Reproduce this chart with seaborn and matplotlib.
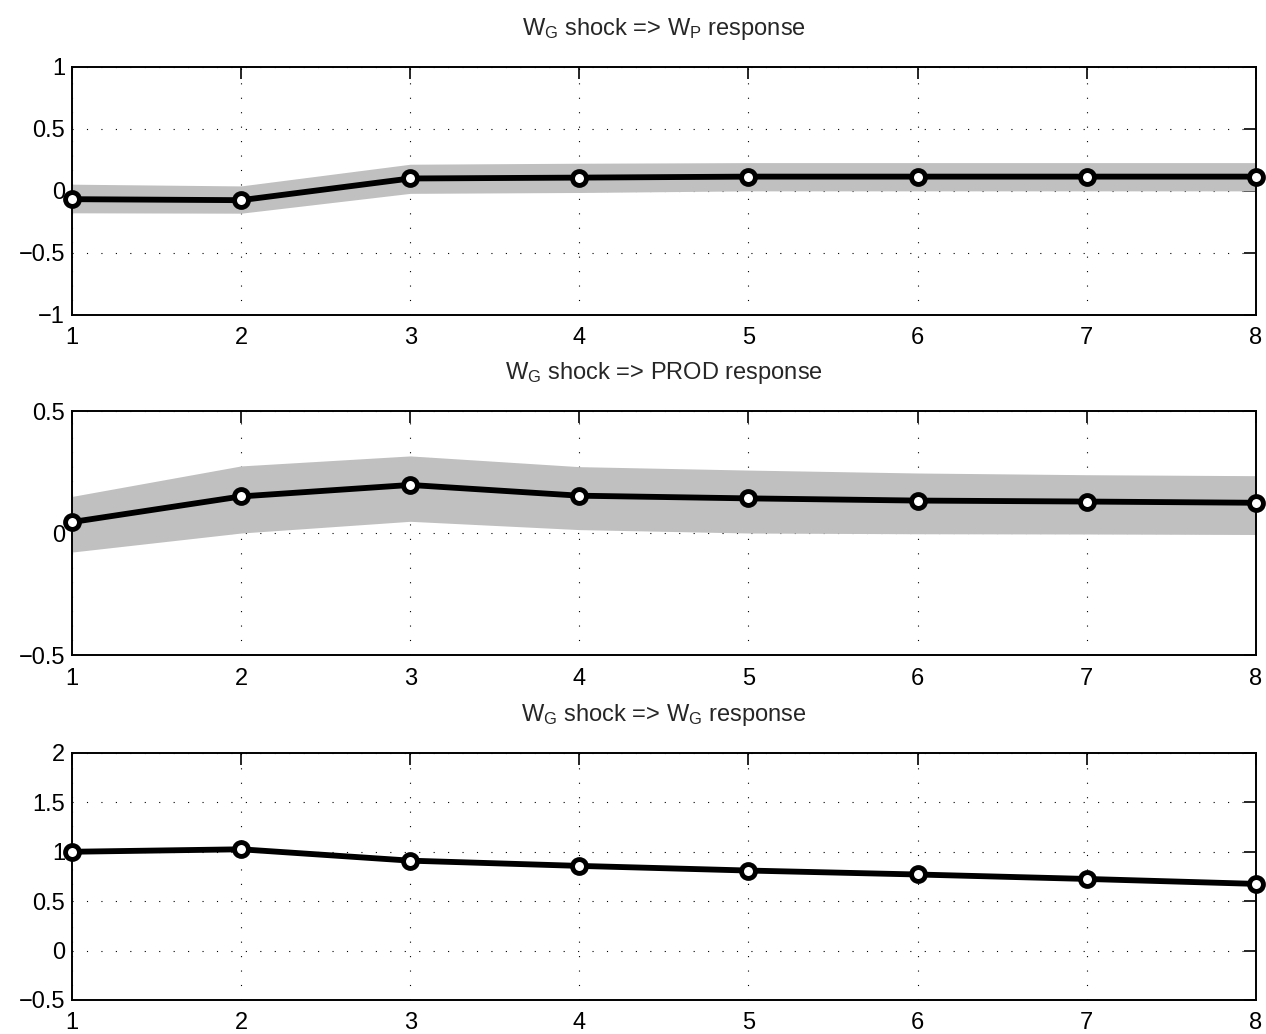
import matplotlib
matplotlib.use("Agg")
import matplotlib.pyplot as plt
import seaborn as sns
import pandas as pd

# ------------------- data ------------------------------------------
horizon = [1, 2, 3, 4, 5, 6, 7, 8]

wp_resp = [-0.067, -0.075, 0.10, 0.107, 0.115, 0.115, 0.115, 0.115]
wp_lo = [-0.177, -0.18, -0.02, -0.013, 0.0, 0.0, 0.0, 0.0]
wp_hi = [0.054, 0.04, 0.215, 0.223, 0.228, 0.228, 0.228, 0.228]

prod_resp = [0.045, 0.15, 0.197, 0.153, 0.142, 0.133, 0.129, 0.124]
prod_lo = [-0.078, 0.0, 0.048, 0.014, 0.0, -0.003, -0.004, -0.006]
prod_hi = [0.15, 0.275, 0.316, 0.272, 0.258, 0.246, 0.239, 0.235]

wg_resp = [1.0, 1.025, 0.91, 0.857, 0.81, 0.77, 0.725, 0.675]
wg_lo = [0.99, 1.015, 0.895, 0.845, 0.80, 0.76, 0.715, 0.665]
wg_hi = [1.01, 1.035, 0.925, 0.865, 0.82, 0.78, 0.735, 0.685]

titles = [r"$\mathregular{W_G}$ shock => $\mathregular{W_P}$ response",
          r"$\mathregular{W_G}$ shock => PROD response",
          r"$\mathregular{W_G}$ shock => $\mathregular{W_G}$ response"]
yticks = [[-1, -0.5, 0, 0.5, 1], [-0.5, 0, 0.5], [-0.5, 0, 0.5, 1, 1.5, 2]]
ylims = [(-1, 1), (-0.5, 0.5), (-0.5, 2)]
tick_labels = [["\u22121", "\u22120.5", "0", "0.5", "1"],
               ["\u22120.5", "0", "0.5"],
               ["\u22120.5", "0", "0.5", "1", "1.5", "2"]]

series = [(wp_resp, wp_lo, wp_hi), (prod_resp, prod_lo, prod_hi), (wg_resp, wg_lo, wg_hi)]

# ------------------- figure ---------------------
sns.set_style("white")
plt.rcParams['font.family'] = ['Liberation Sans', 'DejaVu Sans']
plt.rcParams['mathtext.fontset'] = 'custom'
plt.rcParams['mathtext.rm'] = 'Liberation Sans'

fig = plt.figure(figsize=(12.66, 10.34), dpi=100)
boxes = [(0.0569, 0.6955, 0.935, 0.2398),
         (0.0569, 0.3665, 0.935, 0.236),
         (0.0569, 0.0329, 0.935, 0.2389)]

for i, (resp, lo, hi) in enumerate(series):
    ax = fig.add_axes(boxes[i])
    df = pd.DataFrame({'h': horizon, 'resp': resp, 'lo': lo, 'hi': hi})
    ax.fill_between(df['h'], df['lo'], df['hi'], color='#c0c0c0', lw=0, zorder=2)
    sns.lineplot(data=df, x='h', y='resp', ax=ax, color='black', lw=4.2,
                 marker='o', markersize=10, markerfacecolor='white',
                 markeredgecolor='black', markeredgewidth=3.5, clip_on=False, zorder=5)
    ax.set_xlim(1, 8)
    ax.set_ylim(*ylims[i])
    ax.set_xticks(horizon)
    ax.set_yticks(yticks[i])
    ax.set_yticklabels(tick_labels[i])
    ax.grid(True, color='black', linestyle=(0, (1, 12)), linewidth=0.8)
    ax.set_axisbelow(True)
    ax.tick_params(direction='in', length=8.5, width=1.2, top=True, right=True,
                   labelsize=17, colors='black')
    ax.tick_params(axis='y', pad=5)
    ax.tick_params(axis='x', pad=9)
    for s in ax.spines.values():
        s.set_color('black')
        s.set_linewidth(1.4)
    ax.set_xlabel('')
    ax.set_ylabel('')
    ax.set_title(titles[i], fontsize=17, pad=23)

plt.savefig('out.png', dpi=100)
